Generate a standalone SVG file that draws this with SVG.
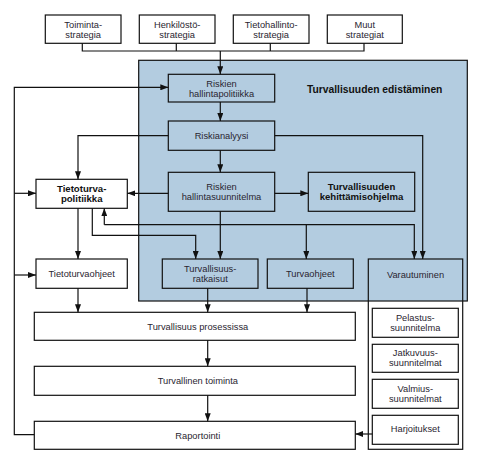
<svg xmlns="http://www.w3.org/2000/svg" width="479" height="473" viewBox="0 0 479 473">
<defs>
<marker id="ah" viewBox="0 0 8 6" refX="8" refY="3" markerWidth="8" markerHeight="6" markerUnits="userSpaceOnUse" orient="auto">
<path d="M0,0 L8,3 L0,6 z" fill="#111"/>
</marker>
<style>
.box{fill:#fff;stroke:#111;stroke-width:1.2}
.bbox{fill:none;stroke:#111;stroke-width:1.2}
.t{font-family:"Liberation Sans",Arial,sans-serif;font-size:9.3px;fill:#2a2530;text-anchor:middle}
.b{font-family:"Liberation Sans",Arial,sans-serif;font-size:9.6px;font-weight:bold;fill:#111;text-anchor:middle}
.c{fill:none;stroke:#111;stroke-width:1.2}
.a{marker-end:url(#ah)}
</style>
</defs>
<rect width="479" height="473" fill="#fff"/>
<g id="edistaminen">
<rect x="138.7" y="60.3" width="328.6" height="240.7" fill="#b3cce0" stroke="#111" stroke-width="1.2"/>
<text x="374.7" y="92.6" class="b" style="font-size:10.3px">Turvallisuuden edistäminen</text>
</g>
<g id="toiminta"><rect class="box" x="45.3" y="15" width="75.7" height="28.3"/><text class="t" x="83.2" y="27.6">Toiminta-</text><text class="t" x="83.2" y="37.6">strategia</text></g>
<g id="henkilosto"><rect class="box" x="139.3" y="15" width="75.7" height="28.3"/><text class="t" x="177.2" y="27.6">Henkilöstö-</text><text class="t" x="177.2" y="37.6">strategia</text></g>
<g id="tietohallinto"><rect class="box" x="233.3" y="15" width="75.7" height="28.3"/><text class="t" x="271.2" y="27.6">Tietohallinto-</text><text class="t" x="271.2" y="37.6">strategia</text></g>
<g id="muut"><rect class="box" x="327.3" y="15" width="75" height="28.3"/><text class="t" x="364.8" y="27.6">Muut</text><text class="t" x="364.8" y="37.6">strategiat</text></g>
<g id="hallintapolitiikka"><rect class="bbox" x="168.3" y="74.3" width="106.4" height="27.7"/><text class="t" x="221.5" y="86.7">Riskien</text><text class="t" x="221.5" y="96.7">hallintapolitiikka</text></g>
<g id="riskianalyysi"><rect class="bbox" x="168.3" y="121" width="106.4" height="29.3"/><text class="t" x="221.5" y="138.8">Riskianalyysi</text></g>
<g id="hallintasuunnitelma"><rect class="bbox" x="168.3" y="172.3" width="106.4" height="39"/><text class="t" x="221.5" y="190.3">Riskien</text><text class="t" x="221.5" y="200.3">hallintasuunnitelma</text></g>
<g id="kehittamisohjelma"><rect class="bbox" x="308.3" y="172.3" width="106.4" height="39"/><text class="b" x="361.5" y="190.3">Turvallisuuden</text><text class="b" x="361.5" y="200.3">kehittämisohjelma</text></g>
<g id="tietoturvapolitiikka"><rect class="box" x="36" y="179.3" width="91.3" height="29"/><text class="b" x="81.7" y="191.8">Tietoturva-</text><text class="b" x="81.7" y="201.8">politiikka</text></g>
<g id="tietoturvaohjeet"><rect class="box" x="36" y="259" width="91.3" height="29.3"/><text class="t" x="81.7" y="276.9">Tietoturvaohjeet</text></g>
<g id="ratkaisut"><rect class="bbox" x="162.3" y="259" width="95.7" height="29.3"/><text class="t" x="210.2" y="271.9">Turvallisuus-</text><text class="t" x="210.2" y="281.9">ratkaisut</text></g>
<g id="turvaohjeet"><rect class="bbox" x="267.3" y="259" width="86" height="29.3"/><text class="t" x="310.3" y="276.9">Turvaohjeet</text></g>
<g id="varautuminen"><rect class="bbox" x="368.3" y="259" width="94.4" height="190.3"/><text class="t" x="415.5" y="278.2">Varautuminen</text></g>
<g id="pelastus"><rect class="box" x="372.3" y="308.3" width="86" height="29"/><text class="t" x="415.3" y="320.8">Pelastus-</text><text class="t" x="415.3" y="330.8">suunnitelma</text></g>
<g id="jatkuvuus"><rect class="box" x="372.3" y="344.3" width="86" height="28"/><text class="t" x="415.3" y="356.3">Jatkuvuus-</text><text class="t" x="415.3" y="366.3">suunnitelmat</text></g>
<g id="valmius"><rect class="box" x="372.3" y="379.3" width="86" height="29"/><text class="t" x="415.3" y="391.8">Valmius-</text><text class="t" x="415.3" y="401.8">suunnitelmat</text></g>
<g id="harjoitukset"><rect class="box" x="372.3" y="415.3" width="86" height="29"/><text class="t" x="415.3" y="431.6">Harjoitukset</text></g>
<g id="prosessissa"><rect class="box" x="34.3" y="312.3" width="321" height="28"/><text class="t" x="197.8" y="329.6">Turvallisuus prosessissa</text></g>
<g id="toimintaturva"><rect class="box" x="34.3" y="366.3" width="321" height="29"/><text class="t" x="197.8" y="384.1">Turvallinen toiminta</text></g>
<g id="raportointi"><rect class="box" x="34.3" y="421.3" width="321" height="28"/><text class="t" x="197.8" y="439.1">Raportointi</text></g>
<g id="connectors">
<path class="c" d="M82.3,43.3 V51 H364 V43.3 M176.3,43.3 V51 M270.3,43.3 V51"/>
<path class="c a" d="M220.3,51 V74.3"/>
<path class="c a" d="M220.3,102 V121"/>
<path class="c a" d="M168.3,135.7 H78 V179.3"/>
<path class="c a" d="M274.7,135.7 H422.7 V259"/>
<path class="c a" d="M220.3,150.3 V172.3"/>
<path class="c a" d="M274.7,193.3 H308.3"/>
<path class="c a" d="M168.3,193.3 H127.3"/>
<path class="c a" d="M220.3,211.3 V259"/>
<path class="c a" d="M104.3,224.7 H414.3 V259"/>
<path class="c a" d="M104.3,224.7 V208.3"/>
<path class="c a" d="M306.3,224.7 V259"/>
<path class="c a" d="M92.3,208.3 V235.3 H195.7 V259"/>
<path class="c a" d="M78,208.3 V259"/>
<path class="c a" d="M78,288.3 V312.3"/>
<path class="c a" d="M207.7,288.3 V312.3"/>
<path class="c a" d="M307,288.3 V312.3"/>
<path class="c a" d="M207.7,340.3 V366.3"/>
<path class="c a" d="M207.7,395.3 V421.3"/>
<path class="c a" d="M34.3,434.7 H14.3 V87.3 H168.3"/>
<path class="c a" d="M14.3,193.3 H36"/>
<path class="c a" d="M14.3,275 H36"/>
<path class="c a" d="M372.3,434 H355.3"/>
</g>
</svg>
